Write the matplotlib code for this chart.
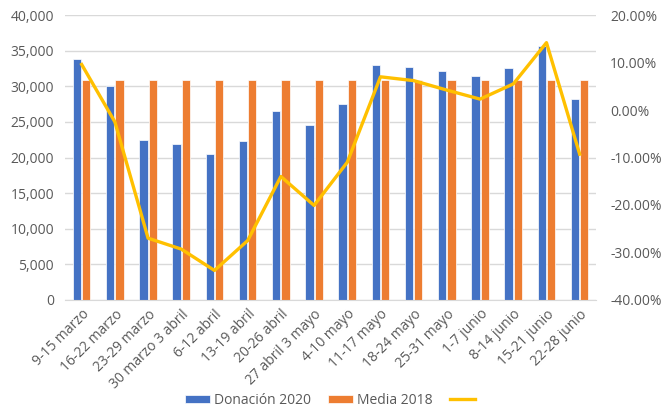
import numpy as np
import matplotlib.pyplot as plt
from matplotlib.ticker import FuncFormatter, MultipleLocator

semanas = ["9-15 marzo", "16-22 marzo", "23-29 marzo", "30 marzo 3 abril", "6-12 abril",
           "13-19 abril", "20-26 abril", "27 abril 3 mayo", "4-10 mayo", "11-17 mayo",
           "18-24 mayo", "25-31 mayo", "1-7 junio", "8-14 junio", "15-21 junio", "22-28 junio"]
donacion_2020 = [33800, 30100, 22500, 21850, 20450, 22350, 26500, 24600,
                 27450, 33000, 32750, 32200, 31500, 32600, 35600, 28150]
media_2018 = [30900] * 16
variacion = [9.6, -2.5, -27.0, -29.3, -33.8, -27.5, -14.0, -20.1,
             -11.0, 7.0, 6.2, 4.2, 2.3, 5.5, 14.2, -9.3]

gris = "#595959"
plt.rcParams['font.family'] = ['Open Sans', 'DejaVu Sans']

fig = plt.figure(figsize=(6.64, 4.2), dpi=100)
ax = fig.add_axes([0.098, 0.286, 0.8, 0.678])
x = np.arange(len(semanas))
w = 0.25
b1 = ax.bar(x - 0.14, donacion_2020, w, color="#4472C4", edgecolor="white", linewidth=0.5,
            label="Donación 2020", zorder=2)
b2 = ax.bar(x + 0.14, media_2018, w, color="#ED7D31", edgecolor="white", linewidth=0.5,
            label="Media 2018", zorder=2)
ax.set_ylim(0, 40000)
ax.set_xlim(-0.5, len(semanas) - 0.5)
ax.yaxis.set_major_locator(MultipleLocator(5000))
ax.yaxis.set_major_formatter(FuncFormatter(lambda v, p: f"{v:,.0f}"))
ax.grid(axis="y", color="#d9d9d9", linewidth=1, zorder=0)
ax.set_axisbelow(True)
for s in ["top", "right", "left"]:
    ax.spines[s].set_visible(False)
ax.spines["bottom"].set_color("#d9d9d9")
ax.set_xticks(x)
ax.set_xticklabels(semanas, rotation=45, ha="right", rotation_mode="anchor")
ax.tick_params(axis="both", length=0, colors=gris, labelsize=10)
ax.tick_params(axis="x", pad=5)
ax.tick_params(axis="y", pad=8)

ax2 = ax.twinx()
ln, = ax2.plot(x, variacion, color="#FFC000", linewidth=2.4, zorder=3)
ax2.set_ylim(-40, 20)
ax2.yaxis.set_major_locator(MultipleLocator(10))
ax2.yaxis.set_major_formatter(FuncFormatter(lambda v, p: f"{v:.2f}%"))
ax2.tick_params(axis="y", length=0, colors=gris, labelsize=10, pad=10)
for s in ax2.spines.values():
    s.set_visible(False)

fig.legend([b1, b2, ln], ["Donación 2020", "Media 2018", ""], loc="lower center",
           bbox_to_anchor=(0.5, 0.0), ncol=3, frameon=False, fontsize=10,
           labelcolor=gris, handlelength=1.8, handleheight=0.5, columnspacing=1.2,
           handletextpad=0.3)

fig.savefig("out.png", dpi=100)
